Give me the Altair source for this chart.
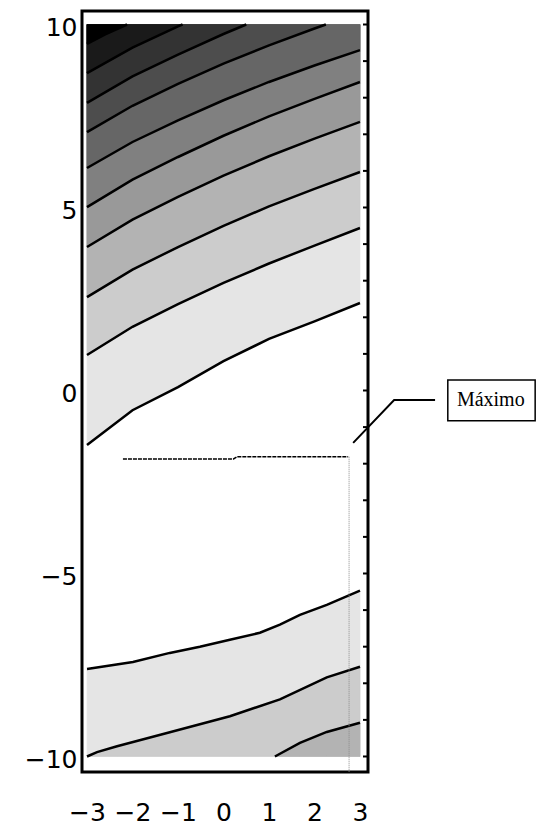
import altair as alt
import pandas as pd

# ---------------- data ----------------
x_ticks = [-3, -2, -1, 0, 1, 2, 3]
y_ticks = [-10, -5, 0, 5, 10]
right_ticks = list(range(-10, 11))

xg = [-3, -2, -1, 0, 1, 2, 3]

# upper contour lines, top to bottom
u1_x = [-3, -2.6, -2.12]
u1_y = [9.47, 9.73, 10.0]
u2_x = [-3, -2, -1, -0.9]
u2_y = [8.67, 9.37, 9.95, 10.0]
u3_x = [-3, -2, -1, 0, 0.5]
u3_y = [7.86, 8.58, 9.18, 9.74, 10.0]
u4_x = [-3, -2, -1, 0, 1, 2, 2.25]
u4_y = [7.06, 7.78, 8.38, 8.93, 9.43, 9.89, 10.0]
u5_y = [6.08, 6.79, 7.38, 7.93, 8.43, 8.88, 9.30]
u6_y = [5.01, 5.76, 6.38, 6.96, 7.49, 7.97, 8.43]
u7_y = [3.92, 4.67, 5.29, 5.87, 6.40, 6.88, 7.34]
u8_y = [2.55, 3.30, 3.92, 4.50, 5.03, 5.51, 5.97]
u9_y = [0.97, 1.74, 2.36, 2.94, 3.47, 3.96, 4.44]
u10_y = [-1.49, -0.54, 0.09, 0.80, 1.41, 1.89, 2.39]

# lower contour lines, top to bottom
l1_x = [-3, -1.99, -1.18, -0.52, 0.14, 0.80, 1.24, 1.68, 2.27, 3]
l1_y = [-7.61, -7.42, -7.17, -7.00, -6.81, -6.62, -6.40, -6.13, -5.86, -5.47]
l2_x = [-3, -2.78, -2.34, -1.18, 0.14, 1.24, 2.27, 3]
l2_y = [-10.0, -9.88, -9.72, -9.34, -8.90, -8.44, -7.84, -7.55]
l3_x = [1.13, 1.68, 2.27, 3]
l3_y = [-10.0, -9.63, -9.33, -9.08]

# grey of the band above each upper line / below each lower line
upper_grays = ["#000000", "#1a1a1a", "#333333", "#4d4d4d", "#666666",
               "#808080", "#999999", "#b3b3b3", "#cccccc", "#e5e5e5"]
lower_grays = ["#e5e5e5", "#cccccc", "#b3b3b3"]

# maximum marker lines
max_hx = [-2.21, 0.22, 0.30, 2.74]
max_hy = [-1.87, -1.87, -1.81, -1.81]
max_vx = [2.76]
max_vy_top = [-1.81]
max_vy_bot = [-10.42]

# annotation
pointer_x = [2.85, 3.75, 4.65]
pointer_y = [-1.43, -0.26, -0.26]
box_x, box_x2, box_y, box_y2 = [4.93], [6.85], [0.29], [-0.83]
label_x, label_y = [5.13], [-0.26]
label_text = ["Máximo"]

# ---------------- chart ----------------
W, H = 286, 761
xs = alt.Scale(domain=[-3.11, 3.176], nice=False, zero=False)
ys = alt.Scale(domain=[-10.424, 10.369], nice=False, zero=False)

FONT = "DejaVu Sans"
x_axis = alt.Axis(values=x_ticks, ticks=False, tickSize=0, domain=False, grid=False,
                  title=None, labelFont=FONT, labelFontSize=25, labelColor="black",
                  labelPadding=28, labelOverlap=False, labelFlush=False, format="d")
y_axis = alt.Axis(values=y_ticks, ticks=False, tickSize=0, domain=False, grid=False,
                  title=None, labelFont=FONT, labelFontSize=25, labelColor="black",
                  labelPadding=5, labelOverlap=False, labelFlush=False, format="d",
                  labelOffset=3)


def X(field="x"):
    return alt.X(field, type="quantitative", scale=xs, axis=x_axis)


def Y(field="y"):
    return alt.Y(field, type="quantitative", scale=ys, axis=y_axis)


layers = []
upper = [(u1_x, u1_y), (u2_x, u2_y), (u3_x, u3_y), (u4_x, u4_y), (xg, u5_y),
         (xg, u6_y), (xg, u7_y), (xg, u8_y), (xg, u9_y), (xg, u10_y)]
lower = [(l1_x, l1_y), (l2_x, l2_y), (l3_x, l3_y)]

for (lx, ly), g in reversed(list(zip(upper, upper_grays))):
    df = pd.DataFrame({"x": lx, "y": ly})
    df["y2"] = 10
    layers.append(
        alt.Chart(df).mark_area(color=g, stroke=g, strokeWidth=0.6).encode(
            x=X(), y=Y(), y2="y2"
        )
    )

for (lx, ly), g in zip(lower, lower_grays):
    df = pd.DataFrame({"x": lx, "y": ly})
    df["y2"] = -10
    layers.append(
        alt.Chart(df).mark_area(color=g, stroke=g, strokeWidth=0.6).encode(
            x=X(), y=Y(), y2="y2"
        )
    )

rows = []
for i, (lx, ly) in enumerate(upper + lower):
    for a, b in zip(lx, ly):
        rows.append({"id": i, "x": a, "y": b})
lines_df = pd.DataFrame(rows)
layers.append(
    alt.Chart(lines_df).mark_line(color="black", strokeWidth=2.5).encode(
        x=X(), y=Y(), detail="id:N"
    )
)

layers.append(
    alt.Chart(pd.DataFrame({"x": max_hx, "y": max_hy}))
    .mark_line(color="black", strokeWidth=1.5, strokeDash=[4, 1])
    .encode(x=X(), y=Y())
)
layers.append(
    alt.Chart(pd.DataFrame({"x": max_vx, "y": max_vy_top, "y2": max_vy_bot}))
    .mark_rule(color="#8a8a8a", strokeWidth=1, strokeDash=[1, 1])
    .encode(x=X(), y=Y(), y2="y2")
)

layers.append(
    alt.Chart(pd.DataFrame({"y": right_ticks}))
    .mark_rule(color="black", strokeWidth=2)
    .encode(y=Y(), x=alt.value(W - 5), x2=alt.value(W))
)

layers.append(
    alt.Chart(pd.DataFrame({"x": pointer_x, "y": pointer_y}))
    .mark_line(color="black", strokeWidth=2)
    .encode(x=X(), y=Y())
)
layers.append(
    alt.Chart(pd.DataFrame({"x": box_x, "x2": box_x2, "y": box_y, "y2": box_y2}))
    .mark_rect(fill="white", stroke="black", strokeWidth=1.5)
    .encode(x=X(), x2="x2", y=Y(), y2="y2")
)
layers.append(
    alt.Chart(pd.DataFrame({"x": label_x, "y": label_y, "t": label_text}))
    .mark_text(align="left", baseline="middle", font="Liberation Serif",
               fontSize=20, color="black")
    .encode(x=X(), y=Y(), text="t:N")
)

chart = (
    alt.layer(*layers)
    .properties(
        width=W,
        height=H,
        autosize=alt.AutoSizeParams(type="none"),
        padding={"left": 82, "top": 11, "right": 168, "bottom": 53},
        background="white",
    )
    .configure_view(stroke="black", strokeWidth=3)
)

chart.save("out.html", embed_options={"renderer": "svg", "actions": False})
